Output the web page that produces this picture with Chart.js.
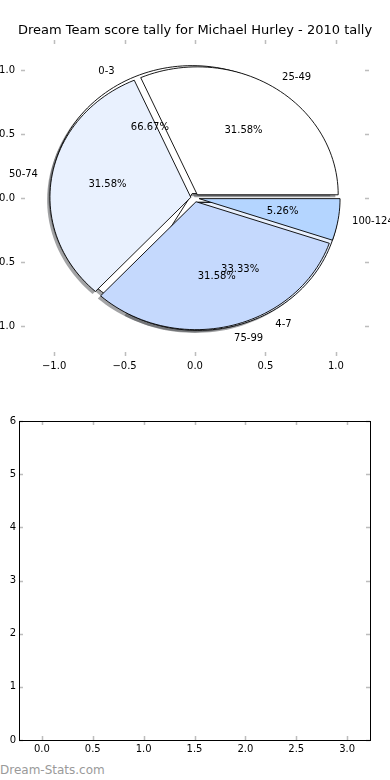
<!DOCTYPE html>
<html>
<head>
<meta charset="utf-8">
<script src="https://cdn.jsdelivr.net/npm/chart.js@4.4.0/dist/chart.umd.min.js"></script>
<style>
  html, body { margin: 0; padding: 0; background: #fff; }
  body { width: 390px; height: 780px; position: relative; overflow: hidden; font-family: 'DejaVu Sans', sans-serif; }
  #pieBox { position: absolute; left: 0; top: 0; width: 390px; height: 395px; }
  #emptyBox { position: absolute; left: 0; top: 400px; width: 390px; height: 362px; }
  #brand { position: absolute; left: 0; top: 762px; font-size: 12px; line-height: 16px; color: #9a9a9a; }
</style>
</head>
<body>
<div id="pieBox"><canvas id="pieCanvas" width="390" height="395"></canvas></div>
<div id="emptyBox"><canvas id="emptyCanvas" width="390" height="362"></canvas></div>
<div id="brand">Dream-Stats.com</div>
<script>
// score ranges, first pie (drawn underneath)
var smallLabels = ['0-3', '4-7'];
var smallValues = [2, 1];
var smallColors = ['#ffffff', '#e9f1fe'];

// score ranges, second pie
var bigLabels = ['25-49', '50-74', '75-99', '100-124'];
var bigValues = [6, 6, 6, 1];
var bigColors = ['#ffffff', '#e9f1fe', '#c5d9fd', '#b4d5ff'];

var pieTicks = [-1, -0.5, 0, 0.5, 1];
var emptyXTicks = [0, 0.5, 1, 1.5, 2, 2.5, 3];
var emptyYTicks = [0, 1, 2, 3, 4, 5, 6];

Chart.defaults.font.family = "'DejaVu Sans', sans-serif";
Chart.defaults.color = '#000';

function fmt1(v){
  return Number(v).toFixed(1).replace('-', '\u2212');
}

function slices(values, explode){
  var total = values.reduce(function(a, b){ return a + b; }, 0);
  var a = 0;
  return values.map(function(v){
    var a0 = a, a1 = a + 360 * v / total;
    a = a1;
    var mid = (a0 + a1) / 2 * Math.PI / 180;
    return { a0: a0, a1: a1, mid: mid, cx: explode * Math.cos(mid), cy: explode * Math.sin(mid), pct: (v / total * 100).toFixed(2) + '%' };
  });
}

function wedgePath(ctx, sx, sy, w, dx, dy){
  ctx.beginPath();
  ctx.moveTo(sx.getPixelForValue(w.cx + dx), sy.getPixelForValue(w.cy + dy));
  var n = Math.max(8, Math.ceil((w.a1 - w.a0) / 2));
  for (var i = 0; i <= n; i++) {
    var t = (w.a0 + (w.a1 - w.a0) * i / n) * Math.PI / 180;
    ctx.lineTo(sx.getPixelForValue(w.cx + dx + Math.cos(t)), sy.getPixelForValue(w.cy + dy + Math.sin(t)));
  }
  ctx.closePath();
}

// little grey ticks pointing in, on all four sides
var innerTicks = {
  id: 'innerTicks',
  afterDraw: function(chart){
    var ctx = chart.ctx, a = chart.chartArea;
    ctx.save();
    ctx.strokeStyle = '#bdbdbd';
    ctx.lineWidth = 1.5;
    chart.scales.x.ticks.forEach(function(t){
      var px = Math.round(chart.scales.x.getPixelForValue(t.value)) + 0.5;
      ctx.beginPath();
      ctx.moveTo(px, a.bottom); ctx.lineTo(px, a.bottom - 4);
      ctx.moveTo(px, a.top); ctx.lineTo(px, a.top + 4);
      ctx.stroke();
    });
    chart.scales.y.ticks.forEach(function(t){
      var py = Math.round(chart.scales.y.getPixelForValue(t.value)) + 0.5;
      ctx.beginPath();
      ctx.moveTo(a.left, py); ctx.lineTo(a.left + 4, py);
      ctx.moveTo(a.right, py); ctx.lineTo(a.right - 4, py);
      ctx.stroke();
    });
    ctx.restore();
  }
};

var piePlugin = {
  id: 'twoPies',
  afterDraw: function(chart){
    var ctx = chart.ctx, sx = chart.scales.x, sy = chart.scales.y;
    var small = slices(smallValues, 0.04);
    var big = slices(bigValues, 0.03);
    ctx.save();
    // shadows first
    small.concat(big).forEach(function(w){
      wedgePath(ctx, sx, sy, w, -0.02, -0.02);
      ctx.fillStyle = 'rgba(70,72,76,0.5)';
      ctx.fill();
    });
    ctx.lineWidth = 0.9;
    ctx.strokeStyle = '#000';
    small.forEach(function(w, i){
      wedgePath(ctx, sx, sy, w, 0, 0);
      ctx.fillStyle = smallColors[i];
      ctx.fill();
      ctx.stroke();
    });
    big.forEach(function(w, i){
      wedgePath(ctx, sx, sy, w, 0, 0);
      ctx.fillStyle = bigColors[i];
      ctx.fill();
      ctx.stroke();
    });
    // texts on top
    ctx.fillStyle = '#000';
    ctx.font = "10px 'DejaVu Sans'";
    ctx.textBaseline = 'middle';
    function texts(list, names){
      list.forEach(function(w, i){
        var xt = w.cx + 1.1 * Math.cos(w.mid), yt = w.cy + 1.1 * Math.sin(w.mid);
        ctx.textAlign = xt > 0 ? 'left' : 'right';
        ctx.fillText(names[i], sx.getPixelForValue(xt), sy.getPixelForValue(yt));
        ctx.textAlign = 'center';
        ctx.fillText(w.pct, sx.getPixelForValue(w.cx + 0.6 * Math.cos(w.mid)), sy.getPixelForValue(w.cy + 0.6 * Math.sin(w.mid)));
      });
    }
    texts(small, smallLabels);
    texts(big, bigLabels);
    ctx.restore();
  }
};

var frame = {
  id: 'frame',
  afterDraw: function(chart){
    var a = chart.chartArea, ctx = chart.ctx;
    ctx.save();
    ctx.strokeStyle = '#000';
    ctx.lineWidth = 1;
    ctx.strokeRect(Math.round(a.left) + 0.5, Math.round(a.top) + 0.5, Math.round(a.right - a.left), Math.round(a.bottom - a.top));
    ctx.restore();
  }
};

new Chart(document.getElementById('pieCanvas'), {
  type: 'scatter',
  data: { datasets: [{ data: [] }] },
  options: {
    responsive: false,
    animation: false,
    devicePixelRatio: 1,
    layout: { padding: 0 },
    plugins: {
      legend: { display: false },
      tooltip: { enabled: false },
      title: {
        display: true,
        text: 'Dream Team score tally for Michael Hurley - 2010 tally',
        color: '#000',
        font: { size: 13, weight: 'normal', lineHeight: 1.2 },
        padding: { top: 22.4, bottom: 2 }
      }
    },
    scales: {
      x: {
        type: 'linear', position: 'bottom', min: -1.235, max: 1.235,
        grid: { display: false, drawTicks: false },
        border: { display: false },
        afterBuildTicks: function(s){ s.ticks = pieTicks.map(function(v){ return { value: v }; }); },
        afterFit: function(s){ s.height = 39; },
        ticks: { padding: 4, font: { size: 10 }, color: '#000', maxRotation: 0, callback: fmt1 }
      },
      y: {
        type: 'linear', position: 'left', min: -1.235, max: 1.235,
        grid: { display: false, drawTicks: false },
        border: { display: false },
        afterBuildTicks: function(s){ s.ticks = pieTicks.map(function(v){ return { value: v }; }); },
        afterFit: function(s){ s.width = 21; },
        ticks: { padding: 6, font: { size: 10 }, color: '#000', callback: fmt1 }
      },
      yRight: {
        type: 'linear', position: 'right', min: -1.235, max: 1.235,
        grid: { display: false, drawTicks: false },
        border: { display: false },
        ticks: { display: false },
        afterFit: function(s){ s.width = 21; }
      }
    }
  },
  plugins: [innerTicks, piePlugin]
});

new Chart(document.getElementById('emptyCanvas'), {
  type: 'scatter',
  data: { datasets: [{ data: [] }] },
  options: {
    responsive: false,
    animation: false,
    devicePixelRatio: 1,
    layout: { padding: { left: 0, right: 20, top: 21, bottom: 0 } },
    plugins: { legend: { display: false }, tooltip: { enabled: false } },
    scales: {
      x: {
        type: 'linear', position: 'bottom', min: -0.225, max: 3.225,
        grid: { display: false, drawTicks: false },
        border: { display: false },
        afterBuildTicks: function(s){ s.ticks = emptyXTicks.map(function(v){ return { value: v }; }); },
        afterFit: function(s){ s.height = 22; },
        ticks: { padding: 3, font: { size: 10 }, color: '#000', maxRotation: 0, callback: fmt1 }
      },
      y: {
        type: 'linear', position: 'left', min: 0, max: 6,
        grid: { display: false, drawTicks: false },
        border: { display: false },
        afterBuildTicks: function(s){ s.ticks = emptyYTicks.map(function(v){ return { value: v }; }); },
        afterFit: function(s){ s.width = 19; },
        ticks: { padding: 3, font: { size: 10 }, color: '#000', callback: function(v){ return String(v); } }
      }
    }
  },
  plugins: [innerTicks, frame]
});
</script>
</body>
</html>
